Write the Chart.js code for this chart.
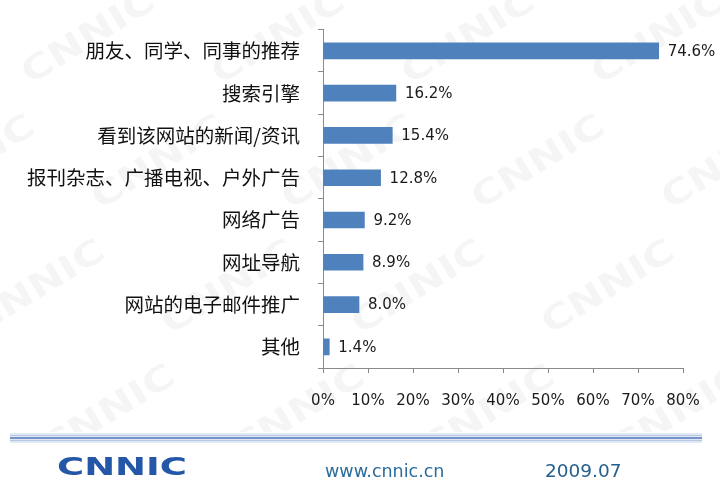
<!DOCTYPE html>
<html>
<head>
<meta charset="utf-8">
<script src="https://cdn.jsdelivr.net/npm/chart.js@4/dist/chart.umd.min.js"></script>
<style>
  html, body { margin: 0; padding: 0; background: #fff; }
  #wrap { position: relative; width: 720px; height: 489px; }
</style>
</head>
<body>
<div id="wrap"><canvas id="myChart"></canvas></div>
<script>
// categories top to bottom, values in percent
const sources = [
  '朋友、同学、同事的推荐',
  '搜索引擎',
  '看到该网站的新闻/资讯',
  '报刊杂志、广播电视、户外广告',
  '网络广告',
  '网址导航',
  '网站的电子邮件推广',
  '其他'
];
const shares = [74.6, 16.2, 15.4, 12.8, 9.2, 8.9, 8.0, 1.4];
const axisMax = 80;
const axisStep = 10;

const footerUrl = 'www.cnnic.cn';
const footerDate = '2009.07';
const logoText = 'CNNIC';

// faint CNNIC watermark behind the chart, above the footer rule
const watermark = {
  id: 'watermark',
  beforeDraw(chart) {
    const c = chart.ctx;
    c.save();
    c.beginPath();
    c.rect(0, 0, 720, 432);
    c.clip();
    c.fillStyle = 'rgba(0,0,0,0.04)';
    c.font = 'bold 34px "DejaVu Sans"';
    for (let row = -1; row < 5; row++) {
      for (let col = -1; col < 5; col++) {
        const x = col * 190 + row * 70 + 30;
        const y = row * 125 + 85;
        c.save();
        c.translate(x, y);
        c.rotate(-0.55);
        c.scale(1.25, 1);
        c.fillText(logoText, 0, 0);
        c.restore();
      }
    }
    c.restore();
  }
};

// percent labels to the right of each bar
const valueLabels = {
  id: 'valueLabels',
  afterDatasetsDraw(chart) {
    const c = chart.ctx;
    const meta = chart.getDatasetMeta(0);
    c.save();
    c.font = '15px "DejaVu Sans"';
    c.fillStyle = '#1a1a1a';
    c.textBaseline = 'middle';
    meta.data.forEach((bar, i) => {
      c.fillText(shares[i].toFixed(1) + '%', bar.x + 9, bar.y + 1);
    });
    c.restore();
  }
};

// footer: double rule, logo, url, date
const footer = {
  id: 'footer',
  afterDraw(chart) {
    const c = chart.ctx;
    c.save();
    c.fillStyle = '#dfe8f4';
    c.fillRect(10, 433, 692, 10);
    c.fillStyle = '#b4c8e4';
    c.fillRect(10, 435, 692, 1);
    c.fillStyle = '#7393c9';
    c.fillRect(10, 437, 692, 2);
    c.fillStyle = '#b4c8e4';
    c.fillRect(10, 440, 692, 1);

    c.fillStyle = '#2457a8';
    c.font = 'bold 25px "DejaVu Sans"';
    c.textBaseline = 'alphabetic';
    c.save();
    c.translate(57, 475);
    const w = c.measureText(logoText).width;
    c.scale(130 / w, 1);
    c.fillText(logoText, 0, 0);
    c.restore();

    c.font = '17.5px "DejaVu Sans"';
    c.fillStyle = '#2a6c9c';
    c.fillText(footerUrl, 325, 477);
    c.font = '18.5px "DejaVu Sans"';
    c.fillStyle = '#245f8e';
    c.fillText(footerDate, 545, 477);
    c.restore();
  }
};

const ctx = document.getElementById('myChart');

new Chart(ctx, {
  type: 'bar',
  data: {
    labels: sources,
    datasets: [
      {
        data: shares,
        backgroundColor: '#4f81bd',
        borderWidth: 0,
        barThickness: 16,
      },
    ],
  },
  options: {
    indexAxis: 'y',
    responsive: true,
    maintainAspectRatio: false,
    animation: false,
    layout: {
      padding: { top: 23, right: 37, left: 0, bottom: 0 },
    },
    plugins: {
      legend: { display: false },
      tooltip: { enabled: false },
    },
    scales: {
      x: {
        min: 0,
        max: axisMax,
        afterFit(scale) { scale.height = 121; },
        ticks: {
          stepSize: axisStep,
          padding: 19,
          color: '#1a1a1a',
          font: { family: '"DejaVu Sans"', size: 15 },
          callback: (v) => v + '%',
        },
        grid: {
          drawOnChartArea: false,
          drawTicks: true,
          tickLength: 5,
          color: '#8a8a8a',
        },
        border: { color: '#8a8a8a', width: 1 },
      },
      y: {
        afterFit(scale) { scale.width = 323; },
        ticks: {
          padding: 18,
          color: '#111',
          font: { family: '"Noto Sans CJK SC"', size: 19.5 },
        },
        grid: {
          offset: true,
          drawOnChartArea: false,
          drawTicks: true,
          tickLength: 5,
          color: '#8a8a8a',
        },
        border: { color: '#8a8a8a', width: 1 },
      },
    },
  },
  plugins: [watermark, valueLabels, footer],
});
</script>
</body>
</html>
